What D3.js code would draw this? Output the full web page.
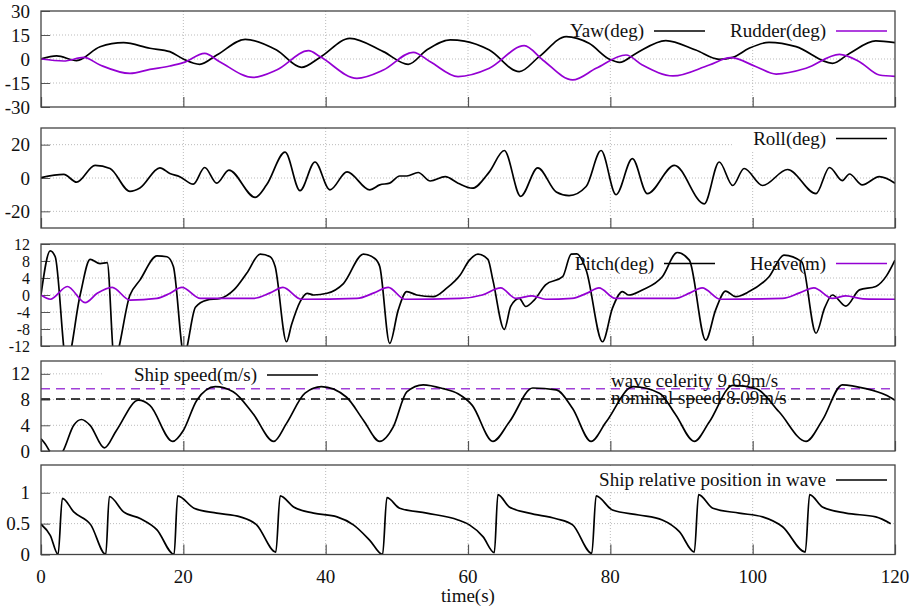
<!DOCTYPE html>
<html>
<head>
<meta charset="utf-8">
<script src="https://cdn.jsdelivr.net/npm/d3@7"></script>
<style>
  body { margin: 0; background: #fff; }
  svg { font-family: "Liberation Serif", "DejaVu Serif", serif; }
</style>
</head>
<body>
<div id="chart"></div>
<script>
// Ship motion time histories, five stacked panels sharing time(s)

const timeTicks = [0, 20, 40, 60, 80, 100, 120];

// [time, value]
const yaw = [[0,0],[2.2,1.9],[5,-1],[8.3,7.7],[11.6,10.2],[15.3,6.7],[18.1,4.6],[20,0],[22.3,-3.3],[24.7,2.5],[28.7,12.3],[33.1,5.6],[36.6,-5.2],[39.2,1],[43.4,12.9],[48.1,4.6],[51.6,-3.3],[54.2,5.6],[57.5,11.9],[59.5,11.2],[63,5.6],[67.2,-7.9],[70,1.5],[73.8,14],[77,9.8],[79.9,-0.2],[81.3,-2.1],[83.6,3.5],[87.8,11.5],[92,5.6],[95.3,-0.2],[97.2,1],[99.5,6.7],[102.3,10.4],[106.1,7.7],[111.2,-2.7],[113.6,3.5],[117.3,11.3],[120,10.2]];
const rudder = [[0,0],[3.2,-1.25],[6,1],[8.3,-3.75],[12.5,-9],[15.3,-6.5],[18.1,-4.4],[20,-2.3],[23,3.5],[25.1,-1.7],[29.8,-11.5],[33.1,-6.9],[37.6,5.2],[39.2,1.5],[44.4,-12.1],[48.1,-6.9],[52.3,4.2],[54.7,-1.7],[58.6,-11],[63,-5.8],[67.9,8.3],[70.5,-0.6],[74.7,-13.1],[78,-5.8],[82.2,2.5],[84.5,-3.75],[88.8,-10.6],[93.9,-3.75],[96.9,0.8],[100.5,-4.8],[103.3,-9.4],[107.5,-5.8],[112.2,2.9],[115,-1.7],[117.8,-10],[120,-10.8]];
const roll = [[0,0.2],[3.2,2.2],[5,-2.5],[7.6,7.6],[9.7,5.7],[12.5,-8],[13.9,-6],[16.7,6.1],[18.1,2.7],[19.5,0.8],[21.4,-3.7],[23,6.3],[24.7,-3.1],[26.4,4.7],[30.1,-11.6],[31.7,-4.1],[34.3,15.5],[36.4,-7.6],[38.5,9.6],[40.6,-7.1],[43,3.7],[46.2,-7.1],[47.6,-4.1],[49,-3.1],[50.4,1.2],[51.4,1.2],[53,3.3],[54.7,-1.8],[56.8,0.8],[58.6,-3.1],[60.6,-6.1],[63,3.7],[65.1,16.5],[67.4,-11],[69.8,6.1],[72.4,-8.4],[74.2,-10.6],[76.6,-5.1],[78.7,16.5],[80.8,-10],[83.1,11.6],[85.2,-9.4],[89,7.6],[93.2,-15.5],[95.3,9.6],[97.2,-4.5],[98.8,5.7],[101.4,-4.5],[104.9,5.1],[108.9,-9.4],[110.8,6.3],[112.6,-1.6],[113.6,2.4],[115.4,-4.1],[117.8,0.8],[120,-3.1]];
const pitch = [[0,0],[1.3,10.4],[2,9],[3.6,-16],[5.5,0],[6.9,8.4],[8.3,7.4],[9.3,7.6],[10.3,-15],[12.5,0],[13.9,3.5],[16.3,9.2],[17.7,9],[18.6,6.7],[20.1,-14],[21.7,-2.9],[23.3,-1.2],[25.2,-0.8],[27.1,1.2],[28.9,5.1],[30.8,9.6],[32.2,9],[32.9,6.7],[34.5,-11],[35.2,-7],[36.4,-1.6],[37.4,0.4],[38.3,0],[40.2,0.4],[42.5,2.7],[45.3,9.6],[46.9,8.6],[47.6,6.7],[49,-11.4],[50.2,-3.5],[51.4,0.8],[52.8,0],[55.1,-0.4],[57,1.6],[58.9,4.7],[60.2,8.2],[61.4,9.6],[62.8,8.4],[63.5,3.5],[65.1,-8.1],[66,-2.7],[67.2,-0.8],[68.1,-2.7],[69.3,-1.2],[70.9,2.4],[73.3,4.3],[74.5,9.6],[75.3,9.7],[76.6,5.9],[78.9,-11],[80.3,-3.1],[81.7,0.8],[82.6,0],[84.5,1.2],[87.3,4.3],[89.4,10],[91.1,8.2],[93.4,-10.6],[94.8,-3.5],[96.2,0.9],[97.6,-0.4],[99.5,0.8],[102.3,4.3],[104.4,9.4],[106.9,7.8],[108.9,-9],[110.1,-3.1],[111.2,0],[113.1,-2.6],[115,1.2],[117.3,2],[118.8,4.5],[120,8.2]];
const heave = [[0,0],[1.3,-1],[3.7,2],[6.2,-1.8],[7.9,0.4],[10,1.8],[12.5,-1.2],[16.3,-0.8],[18,0.3],[19.8,1.8],[22.4,-0.8],[29.8,-0.8],[32.2,0.5],[34,1.8],[36.6,-1],[44.4,-0.8],[46.8,0.5],[48.8,1.8],[51.1,-1],[58.9,-0.8],[62,0],[64.6,1.7],[66.7,-0.8],[69,-0.2],[70.9,-1],[74.6,-0.8],[76.8,0.5],[78.4,1.7],[80.7,-0.8],[89.1,-0.8],[91.2,0.5],[92.9,1.7],[95.5,-1],[104.2,-0.8],[106.6,0.5],[108.6,1.7],[111.2,-0.8],[113.1,-0.2],[115.5,-0.9],[120,-1]];
const speed = [[0,1.9],[0.6,1.1],[1.2,0],[2.1,-1.5],[3.1,0],[4.6,4],[5.7,4.9],[6.9,4],[8.9,0.5],[10.6,3.2],[13.7,7.9],[15.3,7.1],[18.5,1.5],[20,3.2],[21.9,7.9],[24.5,10],[27,9.2],[29.8,5.8],[32.7,1.5],[34.5,4.3],[37.1,9],[39.4,10],[42.9,8.4],[45.3,4.8],[47.6,1.5],[49.5,3.75],[51.4,9.2],[53.7,10.3],[56.5,9.7],[58.6,8.9],[60.6,7.1],[63.5,1.5],[65.8,4.5],[69.1,9.8],[72.4,9.5],[74.7,6.6],[77.3,1.5],[79.4,4.5],[83.2,10],[86.9,9],[89.2,5.6],[91.8,1.5],[93.9,4.5],[97.2,10.2],[100.5,9.7],[103.7,6.1],[107.5,1.5],[109.8,4.8],[112.6,10.3],[115.9,9.7],[118.7,8.7],[120,7.9]];
const relPos = [[0,0.49],[1.3,0.31],[2.4,0],[3,0.91],[4.6,0.69],[7,0.48],[9.1,0],[9.6,0.94],[11.6,0.69],[14,0.58],[16.3,0.4],[18.7,0],[19.2,0.95],[21.5,0.75],[24.7,0.67],[28,0.61],[30.3,0.48],[33,0.04],[33.6,0.95],[35.5,0.77],[38.3,0.67],[41.6,0.61],[43.9,0.48],[46.2,0.23],[48,0],[48.6,0.92],[50.4,0.75],[54.2,0.67],[58.6,0.56],[60.2,0.48],[62.1,0.29],[63.7,0.03],[64.2,0.97],[65.8,0.77],[68.6,0.67],[72.4,0.58],[74.7,0.48],[77.4,0.02],[78,0.95],[80.3,0.72],[84,0.64],[87.3,0.56],[89.7,0.37],[91.8,0.04],[92.4,0.97],[94.4,0.75],[98.1,0.67],[101.4,0.61],[104.2,0.45],[107.4,0.04],[108,0.97],[109.8,0.77],[113.1,0.67],[117.3,0.61],[119.4,0.5]];

const waveCelerity = 9.69;
const nominalSpeed = 8.09;

const yawTicks = [-30, -15, 0, 15, 30];
const rollTicks = [-20, 0, 20];
const pitchTicks = [-12, -8, -4, 0, 4, 8, 12];
const speedTicks = [0, 4, 8, 12];
const posTicks = [0, 0.5, 1];

const width = 916, height = 610;
const left = 41, right = 895;
const black = "#000", purple = "#9400d3";

const svg = d3.select("#chart").append("svg")
    .attr("width", width)
    .attr("height", height);

const x = d3.scaleLinear().domain([0, 120]).range([left, right]);

// panel layout: pixel top/bottom and y domain
const panels = [
    {top: 11, bottom: 107, domain: [-30, 30], ticks: yawTicks, font: 19,
     series: [{data: yaw, color: black}, {data: rudder, color: purple}],
     legend: {box: [533, 11, 895, 43], y: 31, items: [
        {label: "Yaw(deg)", end: 644, color: black},
        {label: "Rudder(deg)", end: 826, color: purple}]}},
    {top: 128, bottom: 228, domain: [-30, 30], ticks: rollTicks, font: 19,
     series: [{data: roll, color: black}],
     legend: {box: [733, 128, 895, 150], y: 138.5, items: [
        {label: "Roll(deg)", end: 826, color: black}]}},
    {top: 244, bottom: 346, domain: [-12, 12], ticks: pitchTicks, font: 16,
     series: [{data: pitch, color: black}, {data: heave, color: purple}],
     legend: {box: [558, 244, 895, 274], y: 263.5, items: [
        {label: "Pitch(deg)", end: 654, color: black},
        {label: "Heave(m)", end: 826, color: purple}]}},
    {top: 361, bottom: 451, domain: [0, 14], ticks: speedTicks, font: 19,
     series: [{data: speed, color: black}],
     legend: {box: [103, 362, 325, 386], y: 375, items: [
        {label: "Ship speed(m/s)", end: 257, color: black}]}},
    {top: 465, bottom: 554.5, domain: [0, 1.45], ticks: posTicks, font: 19,
     series: [{data: relPos, color: black}],
     legend: {box: [578, 466, 895, 490], y: 480, items: [
        {label: "Ship relative position in wave", end: 826, color: black}]}}
];

panels.forEach((p, i) => {
    const y = d3.scaleLinear().domain(p.domain).range([p.bottom, p.top]);
    const g = svg.append("g");

    g.append("clipPath").attr("id", "clip" + i)
        .append("rect")
        .attr("x", left).attr("y", p.top)
        .attr("width", right - left).attr("height", p.bottom - p.top);

    // dotted grid
    g.append("g").selectAll("line")
        .data(p.ticks.filter(t => y(t) > p.top + 1 && y(t) < p.bottom - 1))
        .join("line")
        .attr("x1", left).attr("x2", right)
        .attr("y1", d => y(d)).attr("y2", d => y(d))
        .attr("stroke", "#bbb").attr("stroke-width", 1)
        .attr("stroke-dasharray", "1,2");
    g.append("g").selectAll("line")
        .data(timeTicks.slice(1, -1))
        .join("line")
        .attr("x1", d => x(d)).attr("x2", d => x(d))
        .attr("y1", p.top).attr("y2", p.bottom)
        .attr("stroke", "#bbb").attr("stroke-width", 1)
        .attr("stroke-dasharray", "1,2");

    // opaque key box
    const b = p.legend.box;
    g.append("rect")
        .attr("x", b[0]).attr("y", b[1])
        .attr("width", b[2] - b[0]).attr("height", b[3] - b[1])
        .attr("fill", "#fff");

    // y axis, inward ticks
    const yAxis = d3.axisLeft(y).tickValues(p.ticks).tickSize(-9).tickPadding(11)
        .tickFormat(d => d);
    const ya = g.append("g")
        .attr("transform", `translate(${left},0)`)
        .call(yAxis);
    ya.select(".domain").remove();
    ya.selectAll("line").attr("stroke", "#555");
    ya.selectAll("text")
        .attr("font-size", p.font)
        .attr("font-family", "Liberation Serif, serif")
        .attr("fill", "#111");

    // x ticks at the bottom, pointing up
    const xa = g.append("g")
        .attr("transform", `translate(0,${p.bottom})`)
        .call(d3.axisBottom(x).tickValues(timeTicks).tickSize(-10).tickFormat(""));
    xa.select(".domain").remove();
    xa.selectAll("line").attr("stroke", "#555").attr("stroke-width", 1.2);

    // reference speeds
    if (i === 3) {
        const refs = [
            {v: waveCelerity, color: "#a040d8", text: "wave celerity 9.69m/s", dy: -2},
            {v: nominalSpeed, color: black, text: "nominal speed 8.09m/s", dy: 5}
        ];
        g.selectAll(".ref")
            .data(refs)
            .join("line")
            .attr("x1", left).attr("x2", right)
            .attr("y1", d => y(d.v)).attr("y2", d => y(d.v))
            .attr("stroke", d => d.color).attr("stroke-width", 1.6)
            .attr("stroke-dasharray", "9,6");
        g.selectAll(".reftext")
            .data(refs)
            .join("text")
            .attr("x", 611)
            .attr("y", d => y(d.v) + d.dy)
            .attr("font-size", 19)
            .attr("fill", "#111")
            .text(d => d.text);
    }

    // curves
    const line = d3.line()
        .x(d => x(d[0]))
        .y(d => y(d[1]))
        .curve(d3.curveMonotoneX);
    g.append("g").attr("clip-path", `url(#clip${i})`)
        .selectAll("path")
        .data(p.series)
        .join("path")
        .attr("d", d => line(d.data))
        .attr("fill", "none")
        .attr("stroke", d => d.color)
        .attr("stroke-width", 1.7)
        .attr("stroke-linejoin", "round");

    // key
    const key = g.append("g");
    p.legend.items.forEach(it => {
        key.append("text")
            .attr("x", it.end).attr("y", p.legend.y)
            .attr("dy", "0.32em")
            .attr("text-anchor", "end")
            .attr("font-size", 19)
            .attr("fill", "#111")
            .text(it.label);
        key.append("line")
            .attr("x1", it.end + 10).attr("x2", it.end + 61)
            .attr("y1", p.legend.y).attr("y2", p.legend.y)
            .attr("stroke", it.color).attr("stroke-width", 1.7);
    });

    // frame
    g.append("rect")
        .attr("x", left).attr("y", p.top)
        .attr("width", right - left).attr("height", p.bottom - p.top)
        .attr("fill", "none")
        .attr("stroke", "#444").attr("stroke-width", 1.3);
});

// shared time axis labels under the last panel
svg.append("g").selectAll("text")
    .data(timeTicks)
    .join("text")
    .attr("x", d => x(d))
    .attr("y", 583)
    .attr("text-anchor", "middle")
    .attr("font-size", 19)
    .attr("fill", "#111")
    .text(d => d);

svg.append("text")
    .attr("x", (left + right) / 2)
    .attr("y", 602)
    .attr("text-anchor", "middle")
    .attr("font-size", 19)
    .attr("fill", "#111")
    .text("time(s)");
</script>
</body>
</html>
